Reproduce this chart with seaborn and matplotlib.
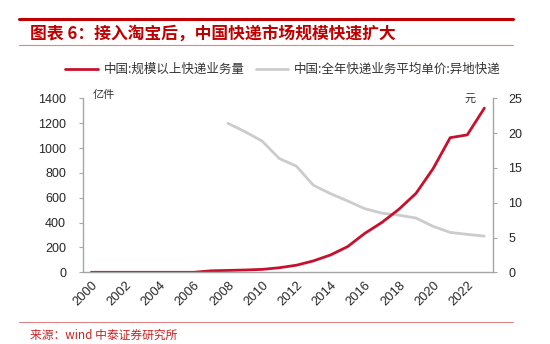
import numpy as np
import pandas as pd
import matplotlib
matplotlib.use("Agg")
import matplotlib.pyplot as plt
from matplotlib.lines import Line2D
import seaborn as sns

# ---- data ----
years = list(range(2000, 2024))
volume = [0, 0, 0, 0, 0, 0, 0, 12.0, 15.1, 18.6, 23.4, 36.7, 56.9, 91.9,
          139.6, 206.7, 312.8, 400.6, 507.1, 635.2, 833.6, 1083.0, 1105.8, 1320.7]
price_years = list(range(2008, 2024))
price = [21.4, 20.2, 18.85, 16.35, 15.25, 12.5, 11.3, 10.25, 9.15, 8.5, 8.2,
         7.8, 6.6, 5.73, 5.45, 5.2]
xtick_years = list(range(2000, 2024, 2))
left_ticks = [0, 200, 400, 600, 800, 1000, 1200, 1400]
right_ticks = [0, 5, 10, 15, 20, 25]

title = "图表 6：接入淘宝后，中国快递市场规模快速扩大"
series1 = "中国:规模以上快递业务量"
series2 = "中国:全年快递业务平均单价:异地快递"
left_unit = "亿件"
right_unit = "元"
source = "来源：wind 中泰证券研究所"

df1 = pd.DataFrame({"year": years, "value": volume})
df2 = pd.DataFrame({"year": price_years, "value": price})

sns.set_theme(style="white")
plt.rcParams["font.family"] = ["Liberation Sans", "Noto Sans CJK SC", "DejaVu Sans"]
CJK = ["Noto Sans CJK SC", "DejaVu Sans"]

RED = "#c8102e"
GRAY = "#cccccc"
SPINE = "#a6a6a6"
TITLE_RED = "#c00000"

W, H = 550, 344
fig = plt.figure(figsize=(W / 100, H / 100), dpi=100)

ax = fig.add_axes([82.7 / W, 1 - 272.3 / H, (492.9 - 82.7) / W, (272.3 - 98.3) / H])
ax2 = ax.twinx()

sns.lineplot(data=df1, x="year", y="value", ax=ax, color=RED, lw=2.0, legend=False)
sns.lineplot(data=df2, x="year", y="value", ax=ax2, color=GRAY, lw=2.0, legend=False)

ax.set_xlim(1999.5, 2023.5)
ax.set_ylim(0, 1400)
ax2.set_ylim(0, 25)
ax.set_xlabel("")
ax.set_ylabel("")
ax2.set_ylabel("")

# x ticks: tick marks at category boundaries, labels at category centres
ax.set_xticks([y - 0.5 for y in xtick_years] + [2023.5])
ax.set_xticklabels([])
ax.set_xticks(xtick_years, minor=True)
ax.set_xticklabels([str(y) for y in xtick_years], minor=True, rotation=45,
                   ha="right", va="top", rotation_mode="anchor", fontsize=9.3)
ax.tick_params(axis="x", which="minor", length=0, pad=5)
ax.tick_params(axis="x", which="major", length=3, width=0.8, color=SPINE, direction="out")

ax.set_yticks(left_ticks)
ax.set_yticklabels([str(v) for v in left_ticks], fontsize=9)
ax.tick_params(axis="y", length=3, width=0.8, color=SPINE, direction="out", pad=9)
ax2.set_yticks(right_ticks)
ax2.set_yticklabels([str(v) for v in right_ticks], fontsize=9)
ax2.tick_params(axis="y", length=3, width=0.8, color=SPINE, direction="out", pad=8)

for a in (ax, ax2):
    a.spines["top"].set_visible(False)
    for s in ("left", "right", "bottom"):
        a.spines[s].set_color(SPINE)
        a.spines[s].set_linewidth(1.0)
ax.spines["right"].set_visible(False)
ax2.spines["left"].set_visible(False)
ax2.spines["bottom"].set_visible(False)
ax.grid(False)
ax2.grid(False)
ax2.set_zorder(ax.get_zorder() - 1)
ax.patch.set_visible(False)

# unit labels
fig.text(92.5 / W, 1 - 95 / H, left_unit, fontsize=8, family=CJK, va="center", ha="left", color="#333333")
fig.text(470 / W, 1 - 99 / H, right_unit, fontsize=8, family=CJK, va="center", ha="center", color="#333333")

# header
fig.add_artist(Line2D([19 / W, 513 / W], [1 - 18.5 / H] * 2, color=TITLE_RED, lw=2.2))
fig.text(30 / W, 1 - 33.5 / H, title, fontsize=12.1, family=CJK, fontweight="bold",
         color=TITLE_RED, va="center", ha="left", fontstyle="italic")
fig.add_artist(Line2D([19 / W, 513 / W], [1 - 44.5 / H] * 2, color="#e08585", lw=0.8))

# legend
handles = [Line2D([], [], color=RED, lw=2.0), Line2D([], [], color=GRAY, lw=2.0)]
leg = fig.legend(handles, [series1, series2], loc="center", bbox_to_anchor=(283 / W, 1 - 69.5 / H),
                 ncol=2, frameon=False, prop={"family": CJK, "size": 9},
                 handlelength=2.6, handletextpad=0.45, columnspacing=0.9, borderpad=0)
for t in leg.get_texts():
    t.set_color("#333333")

# footer
fig.add_artist(Line2D([19 / W, 513 / W], [1 - 322 / H] * 2, color="#e08585", lw=0.8))
fig.text(30 / W, 1 - 335 / H, source, fontsize=8.5, family=CJK, color="#cc2222",
         va="center", ha="left")

fig.savefig("out.png", dpi=100)
